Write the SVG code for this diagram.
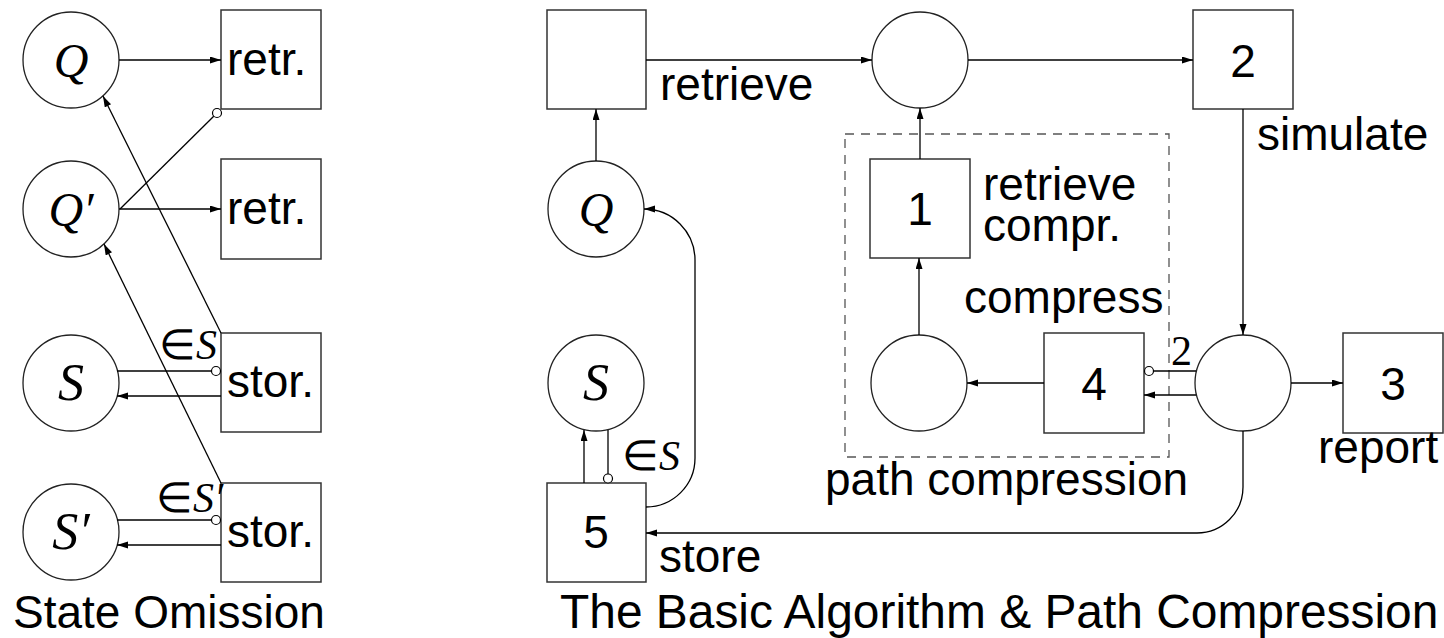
<svg xmlns="http://www.w3.org/2000/svg" width="1444" height="638" viewBox="0 0 1444 638">
  <style>
    .box { fill: #fff; stroke: #333; stroke-width: 1.5; }
    .place { fill: #fff; stroke: #222; stroke-width: 1.3; }
    .edge { fill: none; stroke: #000; stroke-width: 1.3; }
    .arr { marker-end: url(#head); }
    .dot { fill: #fff; stroke: #000; stroke-width: 1.2; }
    .lbl { font-family: "Liberation Sans", Arial, sans-serif; font-size: 46px; fill: #000; }
    .title { font-family: "Liberation Sans", Arial, sans-serif; font-size: 47.9px; fill: #000; }
    .num { font-family: "Liberation Sans", Arial, sans-serif; font-size: 46px; fill: #000; text-anchor: middle; }
    .math { font-family: "Liberation Serif", "Times New Roman", serif; font-style: italic; fill: #000; text-anchor: middle; }
    .small { font-family: "Liberation Serif", "Times New Roman", serif; font-size: 42px; fill: #000; }
    .frame { fill: none; stroke: #555; stroke-width: 1.3; stroke-dasharray: 9 7; }
  </style>
  <defs>
    <marker id="head" markerUnits="userSpaceOnUse" markerWidth="12" markerHeight="8" refX="11" refY="3.5" orient="auto">
      <path d="M0,0 L11,3.5 L0,7 z" fill="#000"/>
    </marker>
  </defs>

  <rect fill="#fff" x="0" y="0" width="1444" height="638"/>

  <!-- ============ State omission (left) ============ -->
  <g id="so-Q"><circle class="place" cx="71" cy="60" r="48"/><text class="math" x="71" y="77" font-size="48">Q</text></g>
  <g id="so-Qp"><circle class="place" cx="71" cy="209" r="48"/><text class="math" x="71" y="226" font-size="48">Q′</text></g>
  <g id="so-S"><circle class="place" cx="71" cy="383" r="48"/><text class="math" x="71" y="400" font-size="52">S</text></g>
  <g id="so-Sp"><circle class="place" cx="71" cy="532" r="48"/><text class="math" x="71" y="549" font-size="52">S′</text></g>
  <g id="so-retr1"><rect class="box" x="221" y="10" width="100" height="99"/><text class="lbl" x="227" y="75">retr.</text></g>
  <g id="so-retr2"><rect class="box" x="221" y="159" width="100" height="100"/><text class="lbl" x="227" y="224">retr.</text></g>
  <g id="so-stor1"><rect class="box" x="221" y="333" width="100" height="99"/><text class="lbl" x="227" y="397">stor.</text></g>
  <g id="so-stor2"><rect class="box" x="221" y="483" width="100" height="99"/><text class="lbl" x="227" y="547">stor.</text></g>

  <!-- ============ Basic algorithm (right) ============ -->
  <g id="ba-retrieve"><rect class="box" x="547" y="10" width="99" height="99"/></g>
  <g id="ba-Q"><circle class="place" cx="596" cy="209" r="48"/><text class="math" x="596" y="226" font-size="48">Q</text></g>
  <g id="ba-S"><circle class="place" cx="596" cy="383" r="48"/><text class="math" x="596" y="400" font-size="52">S</text></g>
  <g id="ba-t5"><rect class="box" x="547" y="483" width="99" height="99"/><text class="num" x="596" y="548">5</text></g>
  <g id="ba-p1"><circle class="place" cx="920" cy="60" r="48"/></g>
  <g id="ba-t2"><rect class="box" x="1193" y="10" width="100" height="99"/><text class="num" x="1243" y="77">2</text></g>
  <g id="ba-t1"><rect class="box" x="870" y="159" width="100" height="99"/><text class="num" x="920" y="225">1</text></g>
  <g id="ba-p3"><circle class="place" cx="919" cy="383" r="48"/></g>
  <g id="ba-t4"><rect class="box" x="1044" y="333" width="100" height="100"/><text class="num" x="1094" y="400">4</text></g>
  <g id="ba-p4"><circle class="place" cx="1243" cy="383" r="48"/></g>
  <g id="ba-t3"><rect class="box" x="1343" y="333" width="100" height="100"/><text class="num" x="1393" y="400">3</text></g>

  <!-- path compression sub-net frame -->
  <rect class="frame" x="845" y="134" width="324" height="323"/>

  <!-- ============ connectors ============ -->
  <g id="connectors">
    <!-- state omission -->
    <path class="edge arr" d="M119,60 H221"/>
    <path class="edge arr" d="M119,209 H221"/>
    <path class="edge" d="M120,209 L214,116"/>
    <circle class="dot" cx="217" cy="113" r="4.5"/>
    <path class="edge arr" d="M221,333 L103,96"/>
    <path class="edge arr" d="M221,483 L104,244"/>
    <path class="edge" d="M117,371 H211"/>
    <circle class="dot" cx="216" cy="371" r="4.5"/>
    <path class="edge arr" d="M221,396 H117"/>
    <path class="edge" d="M117,520 H211"/>
    <circle class="dot" cx="216" cy="520" r="4.5"/>
    <path class="edge arr" d="M221,545 H117"/>

    <!-- basic algorithm -->
    <path class="edge arr" d="M646,60 H872"/>
    <path class="edge arr" d="M596,161 V109"/>
    <path class="edge arr" d="M968,60 H1193"/>
    <path class="edge arr" d="M920,159 V108"/>
    <path class="edge arr" d="M919,335 V258"/>
    <path class="edge arr" d="M1044,383 H967"/>
    <path class="edge arr" d="M1243,109 V335"/>
    <path class="edge arr" d="M1291,383 H1343"/>
    <path class="edge" d="M1196,371 H1153.5"/>
    <circle class="dot" cx="1149" cy="371" r="4.5"/>
    <path class="edge arr" d="M1196,395 H1144"/>
    <path class="edge arr" d="M1243,431 V487 A46,46 0 0 1 1197,533 H646"/>
    <path class="edge arr" d="M646,507 A49,49 0 0 0 695,458 V260 A51,51 0 0 0 644,209"/>
    <path class="edge arr" d="M584,483 V430"/>
    <path class="edge" d="M608,430 V474"/>
    <circle class="dot" cx="608" cy="478.5" r="4.5"/>
  </g>

  <!-- ============ labels ============ -->
  <text class="small" x="159" y="359">∈<tspan font-style="italic">S</tspan></text>
  <text class="small" x="156" y="512">∈<tspan font-style="italic">S′</tspan></text>
  <text class="small" x="622" y="470">∈<tspan font-style="italic">S</tspan></text>
  <text class="small" x="1171" y="365">2</text>

  <text class="lbl" x="660" y="100">retrieve</text>
  <text class="lbl" x="1257" y="150">simulate</text>
  <text class="lbl" x="983" y="200">retrieve</text>
  <text class="lbl" x="983" y="241">compr.</text>
  <text class="lbl" x="964" y="313">compress</text>
  <text class="lbl" x="1318" y="463">report</text>
  <text class="lbl" x="825" y="495">path compression</text>
  <text class="lbl" x="659" y="572">store</text>

  <text class="lbl" x="169" y="628" text-anchor="middle">State Omission</text>
  <text class="title" x="560" y="628">The Basic Algorithm &amp; Path Compression</text>
</svg>
